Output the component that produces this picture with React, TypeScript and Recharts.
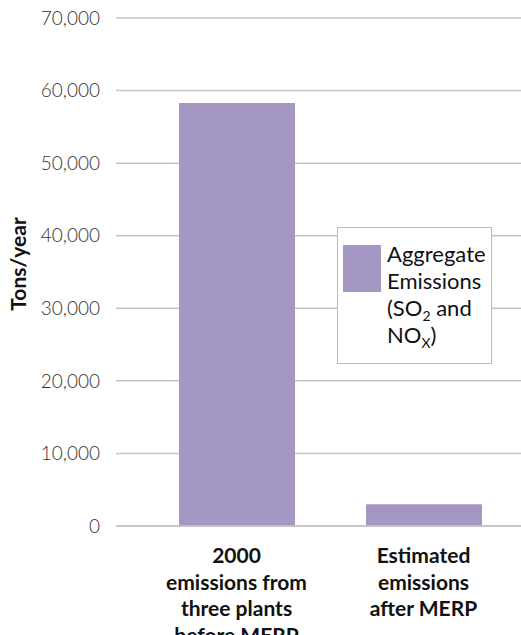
import React from 'react';
import { BarChart, Bar, XAxis, YAxis, CartesianGrid } from 'recharts';

// categories (one string per line of the tick label)
const categories = [
  '2000\nemissions from\nthree plants\nbefore MERP',
  'Estimated\nemissions\nafter MERP',
];
const emissions = [58300, 3000];
const yTicks = [0, 10000, 20000, 30000, 40000, 50000, 60000, 70000];

const BAR_COLOR = '#a597c3';
const FONT = 'Lato, "Open Sans", sans-serif';

const chartData = categories.map((name, i) => ({ name, value: emissions[i] }));

const CategoryTick = (props: any) => {
  const { x, y, payload } = props;
  const lines = String(payload.value).split('\n');
  return (
    <g transform={`translate(${x},${y})`}>
      <text textAnchor="middle" fill="#111" fontFamily={FONT} fontWeight={700} fontSize={21}>
        {lines.map((line, i) => (
          <tspan key={i} x={0} y={29 + i * 26.5}>
            {line}
          </tspan>
        ))}
      </text>
    </g>
  );
};

// legend drawn as an overlay so it doesn't shrink the plot area
const LegendBox = () => (
  <div
    style={{
      position: 'absolute',
      left: 337,
      top: 227,
      width: 155,
      height: 137,
      boxSizing: 'border-box',
      border: '1px solid #bbb',
      background: '#fff',
      fontFamily: FONT,
      fontSize: 22,
      lineHeight: '27px',
      color: '#111',
    }}
  >
    <div style={{ position: 'absolute', left: 5, top: 17, width: 38, height: 47, background: BAR_COLOR }} />
    <div style={{ position: 'absolute', left: 49, top: 12, whiteSpace: 'nowrap' }}>
      Aggregate
      <br />
      Emissions
      <br />
      (SO<sub style={{ fontSize: 14, lineHeight: 0 }}>2</sub> and
      <br />
      NO<sub style={{ fontSize: 14, lineHeight: 0 }}>X</sub>)
    </div>
  </div>
);

export default function App() {
  return (
    <div style={{ position: 'absolute', left: 0, top: 0, width: 521, height: 635, background: '#fff' }}>
      <BarChart
        width={521}
        height={635}
        data={chartData}
        margin={{ top: 18, right: 0, left: 0, bottom: 0 }}
      >
        <CartesianGrid vertical={false} stroke="#c4c4c4" strokeWidth={1.5} />
        <XAxis
          dataKey="name"
          height={109}
          interval={0}
          tick={<CategoryTick />}
          tickLine={false}
          axisLine={{ stroke: '#c4c4c4', strokeWidth: 1.5 }}
          padding={{ left: 27, right: 4 }}
        />
        <YAxis
          width={116}
          domain={[0, 70000]}
          ticks={yTicks}
          tickLine={false}
          axisLine={false}
          tickMargin={10}
          tick={{ fill: '#333', fontSize: 19, fontFamily: FONT, fontWeight: 300 }}
          tickFormatter={(v: number) => v.toLocaleString('en-US')}
          label={({ viewBox }: any) => {
            const cx = viewBox.x + 26;
            const cy = viewBox.y + viewBox.height / 2 - 8;
            return (
              <text
                x={cx}
                y={cy}
                transform={`rotate(-90, ${cx}, ${cy})`}
                textAnchor="middle"
                fill="#111"
                fontFamily={FONT}
                fontWeight={700}
                fontSize={21}
              >
                Tons/year
              </text>
            );
          }}
        />
        <Bar dataKey="value" fill={BAR_COLOR} barSize={116} isAnimationActive={false} />
      </BarChart>
      <LegendBox />
    </div>
  );
}
